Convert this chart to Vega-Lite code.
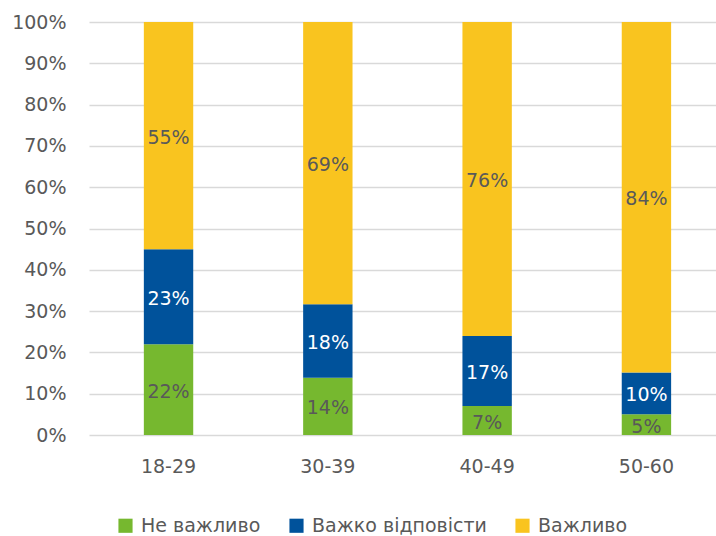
{
  "$schema": "https://vega.github.io/schema/vega-lite/v6.json",
  "width": 627,
  "height": 413,
  "padding": {"left": 11, "top": 13, "right": 0, "bottom": 0},
  "config": {
    "view": {"stroke": null},
    "font": "DejaVu Sans",
    "axis": {"labelFont": "DejaVu Sans", "labelFontSize": 19, "labelColor": "#595959", "domain": false, "ticks": false, "title": null},
    "legend": {"labelFont": "DejaVu Sans", "labelFontSize": 19, "labelColor": "#595959", "labelLimit": 0}
  },
  "data": {
    "values": [
      {"age": "18-29", "cat": "Не важливо", "o": 1, "p": 0.22},
      {"age": "18-29", "cat": "Важко відповісти", "o": 2, "p": 0.23},
      {"age": "18-29", "cat": "Важливо", "o": 3, "p": 0.55},
      {"age": "30-39", "cat": "Не важливо", "o": 1, "p": 0.14},
      {"age": "30-39", "cat": "Важко відповісти", "o": 2, "p": 0.18},
      {"age": "30-39", "cat": "Важливо", "o": 3, "p": 0.69},
      {"age": "40-49", "cat": "Не важливо", "o": 1, "p": 0.07},
      {"age": "40-49", "cat": "Важко відповісти", "o": 2, "p": 0.17},
      {"age": "40-49", "cat": "Важливо", "o": 3, "p": 0.76},
      {"age": "50-60", "cat": "Не важливо", "o": 1, "p": 0.05},
      {"age": "50-60", "cat": "Важко відповісти", "o": 2, "p": 0.10},
      {"age": "50-60", "cat": "Важливо", "o": 3, "p": 0.84}
    ]
  },
  "transform": [
    {"stack": "p", "groupby": ["age"], "sort": [{"field": "o", "order": "ascending"}], "as": ["y0", "y1"], "offset": "normalize"},
    {"calculate": "(datum.y0 + datum.y1) / 2", "as": "ymid"}
  ],
  "encoding": {
    "x": {
      "field": "age", "type": "nominal",
      "scale": {"paddingInner": 0.69, "paddingOuter": 0.313, "align": 0.55},
      "axis": {"labelAngle": 0, "labelPadding": 22, "grid": false}
    }
  },
  "layer": [
    {
      "mark": {"type": "bar"},
      "encoding": {
        "y": {
          "field": "y0", "type": "quantitative",
          "scale": {"domain": [0, 1]},
          "axis": {"format": ".0%", "values": [0, 0.1, 0.2, 0.3, 0.4, 0.5, 0.6, 0.7, 0.8, 0.9, 1], "labelPadding": 23, "grid": true, "gridColor": "#d9d9d9", "gridWidth": 1.3}
        },
        "y2": {"field": "y1"},
        "color": {
          "field": "cat", "type": "nominal",
          "scale": {"domain": ["Не важливо", "Важко відповісти", "Важливо"], "range": ["#76B82F", "#00529B", "#F9C41F"]},
          "legend": {"title": null, "orient": "none", "legendX": 27, "legendY": 494, "direction": "horizontal", "symbolType": "square", "symbolSize": 200, "symbolStrokeWidth": 0, "columnPadding": 26, "labelOffset": 6}
        }
      }
    },
    {
      "mark": {"type": "text", "fontSize": 19, "baseline": "middle", "align": "center", "dy": 2},
      "encoding": {
        "y": {"field": "ymid", "type": "quantitative"},
        "text": {"field": "p", "type": "quantitative", "format": ".0%"},
        "color": {
          "condition": {"test": "datum.cat === 'Важко відповісти'", "value": "#ffffff"},
          "value": "#595959"
        }
      }
    }
  ]
}
